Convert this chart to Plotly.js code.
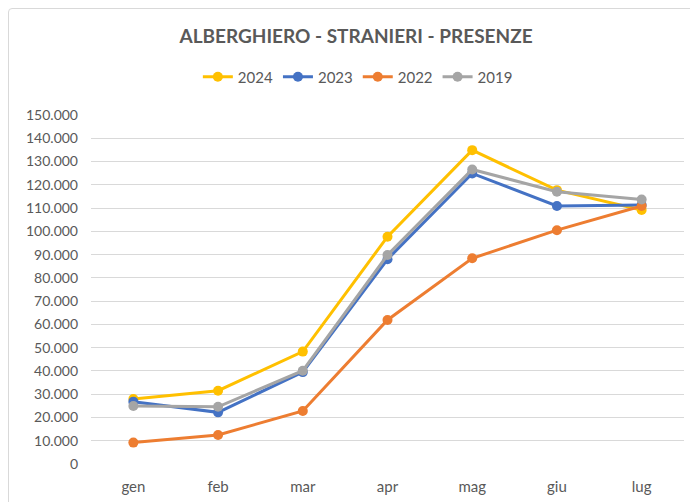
<!DOCTYPE html>
<html>
<head>
<meta charset="utf-8">
<script src="https://cdn.plot.ly/plotly-3.0.1.min.js"></script>
<style>
  html, body { margin: 0; padding: 0; background: #ffffff; }
  #wrap { position: relative; width: 690px; height: 502px; overflow: hidden; }
  #frame { position: absolute; left: 8px; top: 8px; width: 700px; height: 520px;
           border: 1px solid #d9d9d9; border-radius: 4px; box-sizing: border-box; }
  #chart { position: absolute; left: 0; top: 0; width: 690px; height: 502px; }
</style>
</head>
<body>
<div id="wrap"><div id="frame"></div><div id="chart"></div></div>
<script>
const months = ['gen', 'feb', 'mar', 'apr', 'mag', 'giu', 'lug'];
const seriesNames = ['2024', '2023', '2022', '2019'];
const v2024 = [27900, 31500, 48300, 97700, 134900, 117700, 109200];
const v2023 = [26800, 22200, 39500, 88000, 124900, 110900, 111300];
const v2022 = [9200, 12500, 22800, 61900, 88400, 100500, 110900];
const v2019 = [24900, 24600, 40100, 89800, 126600, 117000, 113700];
const yTicks = [0, 10000, 20000, 30000, 40000, 50000, 60000, 70000, 80000, 90000, 100000, 110000, 120000, 130000, 140000, 150000];
const colors = ['#FFC000', '#4472C4', '#ED7D31', '#A5A5A5'];
const values = [v2024, v2023, v2022, v2019];

const traces = values.map((v, i) => ({
  type: 'scatter',
  mode: 'lines+markers',
  name: seriesNames[i],
  x: months,
  y: v,
  line: { color: colors[i], width: 3 },
  marker: { color: colors[i], size: 10 },
  hoverinfo: 'x+y+name'
}));

const fontFam = 'Lato, "Liberation Sans", sans-serif';
const layout = {
  width: 690,
  height: 502,
  margin: { l: 91, r: 6, t: 115, b: 38 },
  paper_bgcolor: 'rgba(0,0,0,0)',
  plot_bgcolor: 'rgba(0,0,0,0)',
  separators: ',.',
  font: { family: fontFam, color: '#595959', size: 14 },
  title: {
    text: '<b>ALBERGHIERO - STRANIERI - PRESENZE</b>',
    font: { family: fontFam, size: 19, color: '#595959' },
    x: 0.516, xref: 'container', xanchor: 'center',
    y: 0.928, yref: 'container', yanchor: 'middle'
  },
  showlegend: true,
  legend: {
    orientation: 'h',
    x: 0.45, xanchor: 'center',
    y: 1.109, yanchor: 'middle',
    font: { family: fontFam, size: 15, color: '#595959' },
    itemwidth: 30,
    tracegroupgap: 0
  },
  xaxis: {
    type: 'category',
    range: [-0.5, 6.5],
    showgrid: false,
    zeroline: false,
    showline: false,
    ticks: '',
    ticklabelstandoff: 12,
    tickfont: { family: fontFam, size: 15, color: '#595959' },
    fixedrange: true
  },
  yaxis: {
    range: [0, 150000],
    tickvals: yTicks,
    tickformat: ',d',
    showgrid: true,
    gridcolor: '#d9d9d9',
    gridwidth: 1,
    zeroline: false,
    showline: false,
    ticks: '',
    ticklabelstandoff: 12,
    tickfont: { family: fontFam, size: 14, color: '#595959' },
    fixedrange: true
  }
};

Plotly.newPlot('chart', traces, layout, { displayModeBar: false, staticPlot: true });
</script>
</body>
</html>
